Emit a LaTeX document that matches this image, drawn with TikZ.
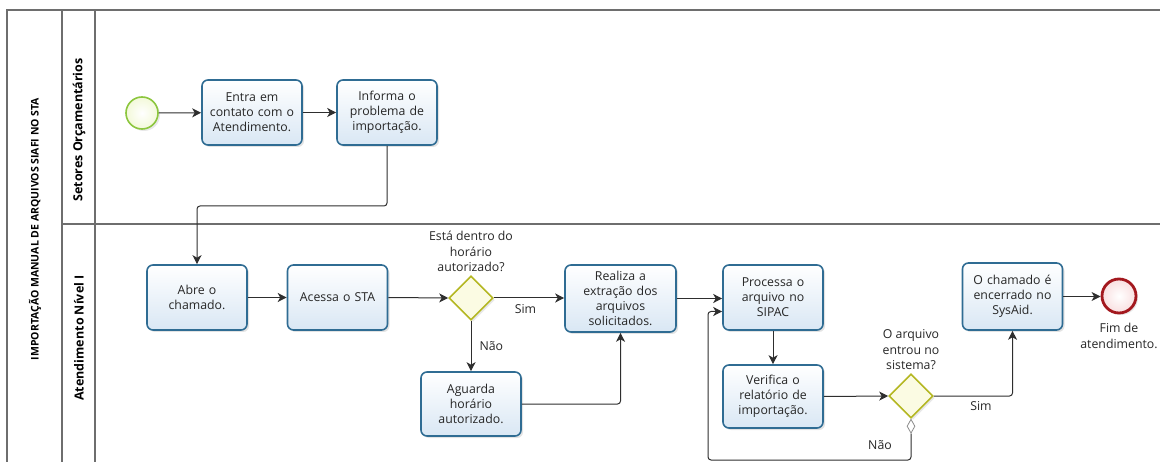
\documentclass[tikz,border=0pt]{standalone}
\usepackage{fontspec}
\setmainfont{Open Sans}
\usetikzlibrary{shapes.geometric,arrows.meta,shadows,calc}

\definecolor{taskline}{HTML}{2F6C93}
\definecolor{taskfill}{HTML}{D9E7F4}
\definecolor{gateline}{HTML}{B4B722}
\definecolor{gatefill}{HTML}{FBFBE3}
\definecolor{startline}{HTML}{8CC63E}
\definecolor{startfill}{HTML}{F3F9D9}
\definecolor{endline}{HTML}{A3181E}
\definecolor{endfill}{HTML}{F9DFE0}
\definecolor{flowline}{HTML}{2E2E2E}
\definecolor{poolline}{HTML}{6E6E6E}

\tikzset{
  task/.style={draw=taskline, line width=1.6pt, rounded corners=6pt,
    top color=white, bottom color=taskfill, minimum width=100pt,
    minimum height=65pt, align=center, text width=96pt, inner sep=2pt,
    font=\fontsize{12.3}{15}\selectfont, text=black!85,
    drop shadow={opacity=0.22, shadow xshift=2pt, shadow yshift=-2pt}},
  gateway/.style={diamond, draw=gateline, line width=1.6pt, fill=gatefill,
    minimum width=44pt, minimum height=44pt, inner sep=0pt,
    drop shadow={opacity=0.18, shadow xshift=2pt, shadow yshift=-2pt}},
  startev/.style={circle, draw=startline, line width=1.6pt, inner color=white,
    outer color=startfill, minimum size=32pt, inner sep=0pt,
    drop shadow={opacity=0.18, shadow xshift=2pt, shadow yshift=-2pt}},
  endev/.style={circle, draw=endline, line width=2.8pt, inner color=white,
    outer color=endfill, minimum size=34pt, inner sep=0pt,
    drop shadow={opacity=0.18, shadow xshift=2pt, shadow yshift=-2pt}},
  flow/.style={draw=flowline, line width=1pt, rounded corners=3pt,
    -{Stealth[length=9pt,width=9pt,inset=2.5pt]}},
  lbl/.style={font=\fontsize{12.3}{15.5}\selectfont, text=black!85, align=center, inner sep=0pt},
  pooltitle/.style={font=\bfseries\fontsize{10.5}{12}\selectfont, rotate=90, inner sep=0pt},
  lanetitle/.style={font=\bfseries\fontsize{12.5}{14}\selectfont, rotate=90, inner sep=0pt},
  pool/.style={draw=poolline, line width=1.1pt},
  markdia/.style={draw=black!45, fill=white, line width=0.8pt},
}

\begin{document}
\begin{tikzpicture}[x=1pt, y=-1pt]
\useasboundingbox (0,0) rectangle (1162,462);

% pool and lanes
\draw[pool] (7,462) -- (7,10) -- (1160,10);
\draw[pool] (62,10) -- (62,462);
\draw[pool] (95,10) -- (95,462);
\draw[pool] (62,224) -- (1160,224);

\node[pooltitle] (pooltitle) at (35,229) {IMPORTAÇÃO MANUAL DE ARQUIVOS SIAFI NO STA};
\node[lanetitle] (lane1) at (79,130) {Setores Orçamentários};
\node[lanetitle] (lane2) at (79,338) {Atendimento Nível I};

% lane 1
\node[startev] (start) at (142,113) {};
\node[task] (entra) at (252,112.5) {Entra em\\contato com o\\Atendimento.};
\node[task] (informa) at (387,112.5) {Informa o\\problema de\\importação.};

% lane 2
\node[task] (abre) at (197,297.5) {Abre o\\chamado.};
\node[task] (acessa) at (337.5,297.5) {Acessa o STA};
\node[gateway] (d1) at (471,298) {};
\node[lbl, anchor=south] (d1q) at ([yshift=3pt]d1.north) {Está dentro do\\horário\\autorizado?};
\node[task, minimum width=98pt, minimum height=64pt] (aguarda) at (471,404) {Aguarda\\horário\\autorizado.};
\node[task, minimum width=111pt, minimum height=67pt, text width=104pt] (realiza) at (620.5,298.5) {Realiza a\\extração dos\\arquivos\\solicitados.};
\node[task] (processa) at (773,297.5) {Processa o\\arquivo no\\SIPAC};
\node[task, minimum height=63pt] (verifica) at (773,396.5) {Verifica o\\relatório de\\importação.};
\node[gateway] (d2) at (911,396) {};
\node[lbl, anchor=south] (d2q) at ([yshift=3pt]d2.north) {O arquivo\\entrou no\\sistema?};
\node[task, minimum width=99pt, minimum height=67pt] (chamado) at (1012.5,296.5) {O chamado é\\encerrado no\\SysAid.};
\node[endev] (end) at (1119,296) {};
\node[lbl, anchor=north] (endq) at ([yshift=-9pt]end.south) {Fim de\\atendimento.};

% default-flow marker under the second gateway
\node[diamond, markdia, minimum width=8pt, minimum height=14pt, inner sep=0pt, anchor=north] (dflow) at (d2.south) {};

% bend points
\coordinate (bendA) at (0,206);
\coordinate (loopA) at (708,460);
\coordinate (pIn) at ([yshift=-14pt]processa.west);

% connectors
\draw[flow] (start) -- (entra);
\draw[flow] (entra) -- (informa);
\draw[flow] (informa.south) -- (informa.south |- bendA) -- (abre.north |- bendA) -- (abre.north);
\draw[flow] (abre) -- (acessa);
\draw[flow] (acessa.east) -- (d1.west);
\draw[flow] (d1.east) -- node[lbl, below=6pt, pos=0.45] (sim1) {Sim} (realiza.west |- d1.east);
\draw[flow] (d1.south) -- node[lbl, right=8pt] (nao1) {Não} (aguarda.north);
\draw[flow] (aguarda.east) -| (realiza.south);
\draw[flow] (realiza.east) -- (processa.west |- realiza.east);
\draw[flow] (processa.south) -- (verifica.north);
\draw[flow] (verifica.east) -- (d2.west);
\draw[flow] (d2.east) -| node[lbl, pos=0.3, below=5pt] (sim2) {Sim} (chamado.south);
\draw[flow] (chamado.east) -- (end.west |- chamado.east);
\draw[flow] (dflow.south) -- (dflow.south |- loopA) -- (loopA) -- (loopA |- pIn) -- (pIn);
\node[lbl] (nao2) at (880,445) {Não};
\end{tikzpicture}
\end{document}
